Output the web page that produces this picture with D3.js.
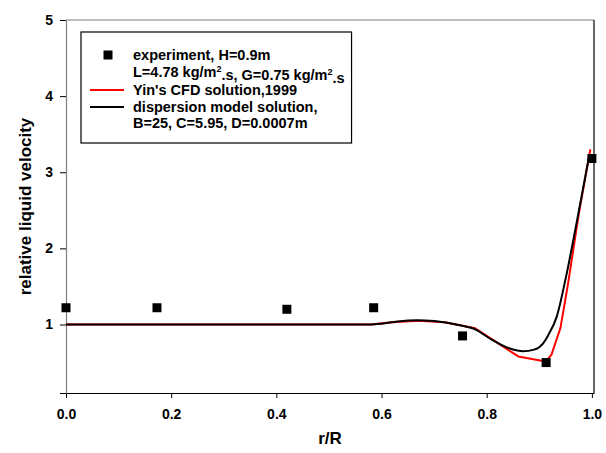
<!DOCTYPE html>
<html>
  <head>
    <meta charset="utf-8">
    <style>
      body { margin: 0; padding: 0; background: #fff; }
      svg { display: block; font-family: Arial, 'Liberation Sans', sans-serif; font-weight: bold; }
    </style>
  </head>
  <body>
    <div id="chart"></div>
    <script src="https://d3js.org/d3.v7.min.js"></script>
    <script>
      // experiment points (r/R, relative liquid velocity)
      var expX = [0.0, 0.173, 0.42, 0.585, 0.754, 0.913, 1.0];
      var expY = [1.22, 1.22, 1.2, 1.22, 0.85, 0.5, 3.18];

      // Yin's CFD solution, 1999
      var cfdX = [0.0, 0.58, 0.62, 0.67, 0.72, 0.778, 0.86, 0.912, 0.923, 0.94, 0.955, 0.975, 0.997];
      var cfdY = [1.0, 1.0, 1.03, 1.05, 1.03, 0.95, 0.58, 0.515, 0.6, 0.95, 1.55, 2.45, 3.3];

      // dispersion model solution
      var modX = [0.0, 0.58, 0.6, 0.63, 0.667, 0.7, 0.749, 0.78, 0.806, 0.844, 0.869, 0.89, 0.907, 0.917, 0.933, 0.95, 0.97, 0.995];
      var modY = [1.0, 1.0, 1.01, 1.04, 1.057, 1.045, 0.99, 0.93, 0.816, 0.685, 0.649, 0.67, 0.75, 0.86, 1.1, 1.6, 2.3, 3.22];

      var xTicks = [0, 0.2, 0.4, 0.6, 0.8, 1.0];
      var yTicks = [0.1, 1, 2, 3, 4, 5];

      var W = 606, H = 453;
      var pL = 66, pR = 594, pT = 20, pB = 393;
      var font = "Arial, 'Liberation Sans', sans-serif";

      var svg = d3.select("#chart").append("svg")
        .attr("width", W).attr("height", H);

      var x = d3.scaleLinear().domain([0, 1.004]).range([pL, pR]),
          y = d3.scaleLinear().domain([0.1, 5]).range([pB, pT]);

      // frame: gray left/top, black right/bottom
      svg.append("line").attr("x1", pL).attr("x2", pR).attr("y1", pT).attr("y2", pT)
        .attr("stroke", "#808080").attr("stroke-width", 1.2);
      svg.append("line").attr("x1", pR).attr("x2", pR).attr("y1", pT).attr("y2", pB)
        .attr("stroke", "#000").attr("stroke-width", 1.2);

      var xAxis = svg.append("g")
        .attr("transform", "translate(0," + pB + ")")
        .call(d3.axisBottom(x).tickValues(xTicks).tickFormat(d3.format(".1f")).tickSize(5).tickSizeOuter(0).tickPadding(11));
      xAxis.select(".domain").attr("stroke", "#000").attr("stroke-width", 1.2);
      xAxis.selectAll(".tick line").attr("stroke", "#000");
      xAxis.selectAll(".tick text").attr("font-size", 14).attr("font-weight", "bold")
        .attr("font-family", font).attr("fill", "#000");

      var yAxis = svg.append("g")
        .attr("transform", "translate(" + pL + ",0)")
        .call(d3.axisLeft(y).tickValues(yTicks).tickFormat(d => d < 1 ? "" : d3.format("d")(d)).tickSize(6).tickSizeOuter(0).tickPadding(7));
      yAxis.select(".domain").attr("stroke", "#808080").attr("stroke-width", 1.2);
      yAxis.selectAll(".tick line").attr("stroke", "#000");
      yAxis.selectAll(".tick text").attr("font-size", 14).attr("font-weight", "bold")
        .attr("font-family", font).attr("fill", "#000");

      // axis titles
      svg.append("text")
        .attr("x", (pL + pR) / 2).attr("y", 444)
        .attr("text-anchor", "middle").attr("font-size", 17).text("r/R");
      svg.append("text")
        .attr("transform", "translate(31," + (pT + pB) / 2 + ") rotate(-90)")
        .attr("text-anchor", "middle").attr("font-size", 17).text("relative liquid velocity");

      // curves
      var cfdLine = d3.line().x(d => x(d[0])).y(d => y(d[1])).curve(d3.curveLinear);
      var modLine = d3.line().x(d => x(d[0])).y(d => y(d[1])).curve(d3.curveMonotoneX);

      svg.append("path")
        .datum(d3.zip(cfdX, cfdY))
        .attr("fill", "none").attr("stroke", "#ff0000").attr("stroke-width", 2)
        .attr("stroke-linejoin", "round").attr("d", cfdLine);

      svg.append("path")
        .datum(d3.zip(modX, modY))
        .attr("fill", "none").attr("stroke", "#000").attr("stroke-width", 2)
        .attr("stroke-linejoin", "round").attr("d", modLine);

      // experiment squares
      var s = 9;
      svg.selectAll(".pt")
        .data(d3.zip(expX, expY))
        .enter().append("rect")
          .attr("x", d => x(d[0]) - s / 2)
          .attr("y", d => y(d[1]) - s / 2)
          .attr("width", s).attr("height", s)
          .attr("fill", "#000");

      // legend
      var lg = svg.append("g");
      var box = lg.append("rect")
        .attr("x", 81).attr("y", 32).attr("height", 111)
        .attr("fill", "#fff").attr("stroke", "#000").attr("stroke-width", 1.2);

      var tx = 133, rows = [55, 72, 90, 107, 123];
      lg.append("rect").attr("x", 108 - 4.5).attr("y", rows[0] - 4.5)
        .attr("width", 9).attr("height", 9).attr("fill", "#000");
      lg.append("line").attr("x1", 90).attr("x2", 124).attr("y1", rows[2]).attr("y2", rows[2])
        .attr("stroke", "#ff0000").attr("stroke-width", 2);
      lg.append("line").attr("x1", 90).attr("x2", 124).attr("y1", rows[3]).attr("y2", rows[3])
        .attr("stroke", "#000").attr("stroke-width", 2);

      var fs = 14.5;
      lg.append("text").attr("x", tx).attr("y", rows[0]).attr("dy", "0.35em")
        .attr("font-size", fs).text("experiment, H=0.9m");
      var t2 = lg.append("text").attr("x", tx).attr("y", rows[1]).attr("dy", "0.35em")
        .attr("font-size", fs);
      t2.append("tspan").text("L=4.78 kg/m");
      t2.append("tspan").attr("font-size", 9).attr("dy", "-0.55em").text("2");
      t2.append("tspan").attr("dy", "0.55em").text(".s, G=0.75 kg/m");
      t2.append("tspan").attr("font-size", 9).attr("dy", "-0.55em").text("2");
      t2.append("tspan").attr("dy", "0.55em").text(".s");
      lg.append("text").attr("x", tx).attr("y", rows[2]).attr("dy", "0.35em")
        .attr("font-size", fs).text("Yin's CFD solution,1999");
      lg.append("text").attr("x", tx).attr("y", rows[3]).attr("dy", "0.35em")
        .attr("font-size", fs).text("dispersion model solution,");
      lg.append("text").attr("x", tx).attr("y", rows[4]).attr("dy", "0.35em")
        .attr("font-size", fs).text("B=25, C=5.95, D=0.0007m");

      // box width follows the widest legend line
      var tw = d3.max(lg.selectAll("text").nodes(), n => n.getBBox().x + n.getBBox().width);
      box.attr("width", tw + 7 - 81);
    </script>
  </body>
</html>
